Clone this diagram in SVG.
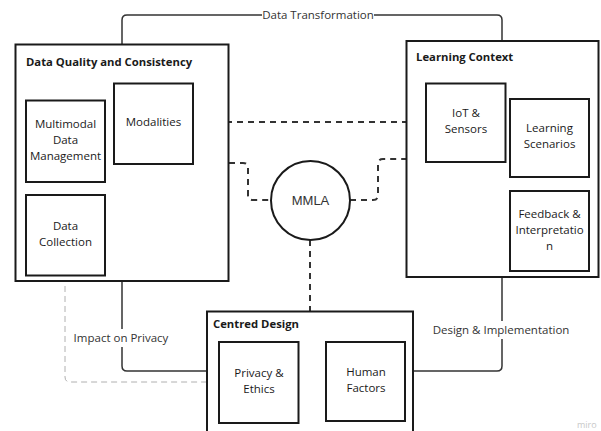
<svg xmlns="http://www.w3.org/2000/svg" width="601" height="431" viewBox="0 0 601 431">
<style>
.box{fill:#fff;stroke:#1a1a1a;stroke-width:2}
.t{font-family:"Open Sans","Liberation Sans",sans-serif;font-size:11.5px;fill:#1a1a1a;text-anchor:middle}
.title{font-family:"Open Sans","Liberation Sans",sans-serif;font-size:11.3px;font-weight:bold;fill:#1a1a1a}
.solid{fill:none;stroke:#333;stroke-width:1.5}
.dash{fill:none;stroke:#333;stroke-width:2;stroke-dasharray:6 5}
.light{fill:none;stroke:#b0b0b0;stroke-width:1;stroke-dasharray:6 4}
.lbl{font-family:"Open Sans","Liberation Sans",sans-serif;font-size:11.5px;fill:#333;text-anchor:middle}
</style>
<rect width="601" height="431" fill="#fff"/>
<g id="connectors">
<path class="solid" d="M122,44 V20 Q122,15 127,15 H262"/>
<path class="solid" d="M374,15 H497 Q502,15 502,20 V41"/>
<path class="dash" d="M193,122 H426"/>
<path class="dash" d="M229,163 H243 Q248,163 248,168 V195 Q248,200 253,200 H271"/>
<path class="dash" d="M350,200 H373 Q378,200 378,195 V164 Q378,159 383,159 H406"/>
<path class="dash" d="M310,240 V311"/>
<path class="solid" d="M122,281 V366 Q122,371 127,371 H207"/>
<path class="light" d="M65,276 V377 Q65,382 70,382 H207"/>
<path class="solid" d="M502,277 V366 Q502,371 497,371 H413"/>
<rect x="72" y="329" width="98" height="18" fill="#fff"/>
<rect x="432" y="321" width="140" height="18" fill="#fff"/>
<text class="lbl" x="318" y="19">Data Transformation</text>
<text class="lbl" x="121" y="342">Impact on Privacy</text>
<text class="lbl" x="501" y="334">Design &amp; Implementation</text>
</g>
<g id="dqc">
<rect class="box" x="15.5" y="44.5" width="213" height="236.5"/>
<text class="title" x="26" y="66">Data Quality and Consistency</text>
</g>
<g id="multimodal">
<rect class="box" x="26" y="100.5" width="79" height="81.5"/>
<text class="t" x="65.5" y="128">Multimodal</text>
<text class="t" x="65.5" y="144">Data</text>
<text class="t" x="65.5" y="160">Management</text>
</g>
<g id="modalities">
<rect class="box" x="114" y="83.5" width="79" height="80.5"/>
<text class="t" x="153.5" y="126">Modalities</text>
</g>
<g id="collection">
<rect class="box" x="26" y="195" width="79" height="80.5"/>
<text class="t" x="65.5" y="230">Data</text>
<text class="t" x="65.5" y="246">Collection</text>
</g>
<g id="lc">
<rect class="box" x="406.5" y="41" width="192" height="236"/>
<text class="title" x="416" y="61">Learning Context</text>
</g>
<g id="iot">
<rect class="box" x="426" y="83.5" width="79.5" height="78.5"/>
<text class="t" x="466" y="117">IoT &amp;</text>
<text class="t" x="466" y="133">Sensors</text>
</g>
<g id="scenarios">
<rect class="box" x="510" y="99" width="79" height="78"/>
<text class="t" x="549.5" y="132">Learning</text>
<text class="t" x="549.5" y="148">Scenarios</text>
</g>
<g id="feedback">
<rect class="box" x="510" y="191" width="79" height="80"/>
<text class="t" x="549.5" y="218">Feedback &amp;</text>
<text class="t" x="549.5" y="234">Interpretatio</text>
<text class="t" x="549.5" y="250">n</text>
</g>
<g id="mmla">
<circle cx="310.5" cy="200.5" r="39.5" fill="#fff" stroke="#1a1a1a" stroke-width="2"/>
<text x="310.5" y="205" font-family="Liberation Sans, Arial, sans-serif" font-size="13" fill="#333" text-anchor="middle">MMLA</text>
</g>
<g id="centred">
<rect class="box" x="207" y="311.5" width="206" height="130"/>
<text class="title" x="213" y="328">Centred Design</text>
</g>
<g id="privacy">
<rect class="box" x="219" y="342" width="79.5" height="81"/>
<text class="t" x="259" y="377">Privacy &amp;</text>
<text class="t" x="259" y="393">Ethics</text>
</g>
<g id="human">
<rect class="box" x="326" y="342" width="79" height="79"/>
<text class="t" x="366" y="376">Human</text>
<text class="t" x="366" y="392">Factors</text>
</g>
<text x="577" y="428" font-family="Open Sans, sans-serif" font-size="9" fill="#c8c8c8">miro</text>
</svg>
